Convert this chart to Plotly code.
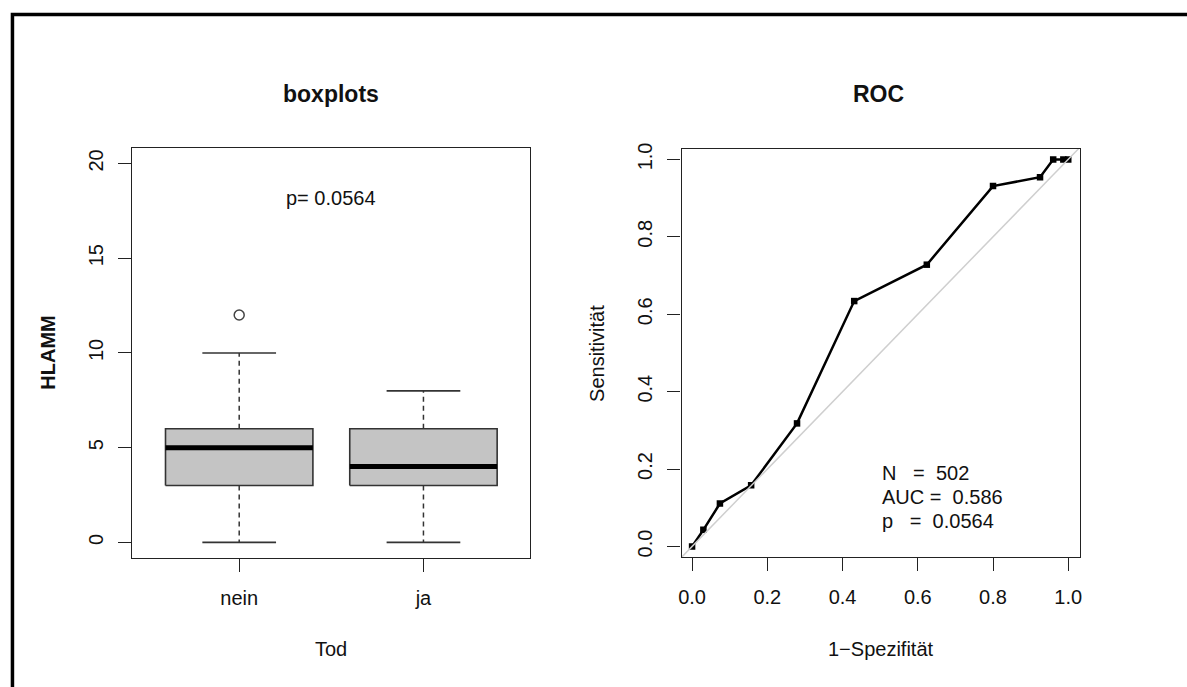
import plotly.graph_objects as go

# ---------------- data ----------------
groups = ["nein", "ja"]
whisker_low = [0, 0]
q1 = [3, 3]
median = [5, 4]
q3 = [6, 6]
whisker_high = [10, 8]
outliers = [[12], []]

roc_fpr = [0.0, 0.030, 0.074, 0.157, 0.279, 0.431, 0.624, 0.800, 0.925, 0.960, 0.987, 1.0]
roc_tpr = [0.0, 0.043, 0.111, 0.158, 0.318, 0.634, 0.728, 0.931, 0.954, 1.0, 1.0, 1.0]

box_y_ticks = [0, 5, 10, 15, 20]
roc_ticks = [0.0, 0.2, 0.4, 0.6, 0.8, 1.0]
roc_tick_labels = ["0.0", "0.2", "0.4", "0.6", "0.8", "1.0"]

p_text = "p= 0.0564"
roc_stats = ["N\u00a0\u00a0\u00a0=\u00a0\u00a0502", "AUC\u00a0=\u00a0\u00a00.586", "p\u00a0\u00a0\u00a0=\u00a0\u00a00.0564"]
roc_stats_y = [0.19, 0.127, 0.067]

# ---------------- figure ----------------
W, H = 1187, 687
FONT = "Liberation Sans, Arial, Helvetica, sans-serif"
TXT = "#111111"
FS = 20
fig = go.Figure()

half = 0.4
staple = 0.2
for i, g in enumerate(groups):
    c = i + 1
    # box body
    fig.add_trace(go.Scatter(
        x=[c - half, c + half, c + half, c - half, c - half],
        y=[q1[i], q1[i], q3[i], q3[i], q1[i]],
        mode="lines", fill="toself", fillcolor="#c4c4c4",
        line=dict(color="#333333", width=1.6), xaxis="x", yaxis="y",
        showlegend=False, hoverinfo="skip"))
    # median
    fig.add_trace(go.Scatter(
        x=[c - half, c + half], y=[median[i], median[i]], mode="lines",
        line=dict(color="black", width=5), xaxis="x", yaxis="y",
        showlegend=False, hoverinfo="skip"))
    # whiskers (dashed)
    fig.add_trace(go.Scatter(
        x=[c, c, None, c, c], y=[q1[i], whisker_low[i], None, q3[i], whisker_high[i]],
        mode="lines", line=dict(color="#333333", width=1.5, dash="5px,4px"),
        xaxis="x", yaxis="y", showlegend=False, hoverinfo="skip"))
    # staples
    fig.add_trace(go.Scatter(
        x=[c - staple, c + staple, None, c - staple, c + staple],
        y=[whisker_low[i], whisker_low[i], None, whisker_high[i], whisker_high[i]],
        mode="lines", line=dict(color="#333333", width=1.6),
        xaxis="x", yaxis="y", showlegend=False, hoverinfo="skip"))
    if outliers[i]:
        fig.add_trace(go.Scatter(
            x=[c] * len(outliers[i]), y=outliers[i], mode="markers",
            marker=dict(symbol="circle-open", size=10, color="#444444", line=dict(width=1.5)),
            xaxis="x", yaxis="y", showlegend=False, hoverinfo="skip"))

# ROC curve
fig.add_trace(go.Scatter(
    x=roc_fpr, y=roc_tpr, mode="lines+markers",
    line=dict(color="black", width=2.5),
    marker=dict(symbol="square", size=6.5, color="black"),
    xaxis="x2", yaxis="y2", showlegend=False, hoverinfo="skip"))
# diagonal reference
fig.add_trace(go.Scatter(
    x=[-0.03, 1.03], y=[-0.03, 1.03], mode="lines",
    line=dict(color="#cfcfcf", width=1.5),
    xaxis="x2", yaxis="y2", showlegend=False, hoverinfo="skip"))

def px_x(p):
    return p / W

def px_y(p):
    return 1 - p / H

axis_common = dict(showline=True, mirror=True, linecolor="#222222", linewidth=1.3,
                   ticks="outside", ticklen=13, tickwidth=1.3, tickcolor="#222222",
                   showgrid=False, zeroline=False, fixedrange=True,
                   tickfont=dict(family=FONT, size=FS, color=TXT))

fig.update_layout(
    width=W, height=H, margin=dict(l=0, r=0, t=0, b=0),
    paper_bgcolor="white", plot_bgcolor="white", showlegend=False,
    xaxis=dict(domain=[px_x(130), px_x(530)], range=[0.42, 2.58],
               tickvals=[1, 2], ticktext=groups, anchor="y", ticklabelstandoff=9,
               **axis_common),
    yaxis=dict(domain=[px_y(557), px_y(143)], range=[-0.83, 20.83],
               tickvals=box_y_ticks, tickangle=-90, anchor="x", ticklabelstandoff=7,
               **axis_common),
    xaxis2=dict(domain=[px_x(682), px_x(1082)], range=[-0.028, 1.03],
                tickvals=roc_ticks, ticktext=roc_tick_labels, anchor="y2",
                ticklabelstandoff=9, **axis_common),
    yaxis2=dict(domain=[px_y(556), px_y(144)], range=[-0.0275, 1.0275],
                tickvals=roc_ticks, ticktext=roc_tick_labels, tickangle=-90, anchor="x2",
                ticklabelstandoff=7, **axis_common),
)

def lab(text, xp, yp, size=FS, angle=0):
    return dict(text=text, x=px_x(xp), y=px_y(yp), xref="paper", yref="paper",
                xanchor="center", yanchor="middle", showarrow=False, textangle=angle,
                font=dict(family=FONT, size=size, color=TXT))

ann = [
    lab("<b>boxplots</b>", 330, 89, size=23),
    lab("<b>ROC</b>", 880, 89, size=23),
    lab("Tod", 330, 649),
    lab("1\u2212Spezifität", 882, 649),
    lab("<b>HLAMM</b>", 45, 350, angle=-90),
    lab("Sensitivität", 597, 350, angle=-90),
]
ann.append(dict(text=p_text, x=1.5, y=18.2, xref="x", yref="y", showarrow=False,
                xanchor="center", yanchor="middle",
                font=dict(family=FONT, size=FS, color=TXT)))
for s, yy in zip(roc_stats, roc_stats_y):
    ann.append(dict(text=s, x=0.5, y=yy, xref="x2", yref="y2", xanchor="left",
                    yanchor="middle", showarrow=False,
                    font=dict(family=FONT, size=FS, color=TXT)))
fig.update_layout(annotations=ann)

# outer frame (left and top edges visible)
fig.add_shape(type="rect", xref="paper", yref="paper",
              x0=px_x(9.5), y0=px_y(8.5), x1=1.2, y1=-0.2,
              line=dict(color="black", width=3.5), fillcolor="rgba(0,0,0,0)", layer="above")

fig.write_html("out.html", config={"displayModeBar": False},
               post_script="document.body.style.margin='0';document.body.style.overflow='hidden';")
